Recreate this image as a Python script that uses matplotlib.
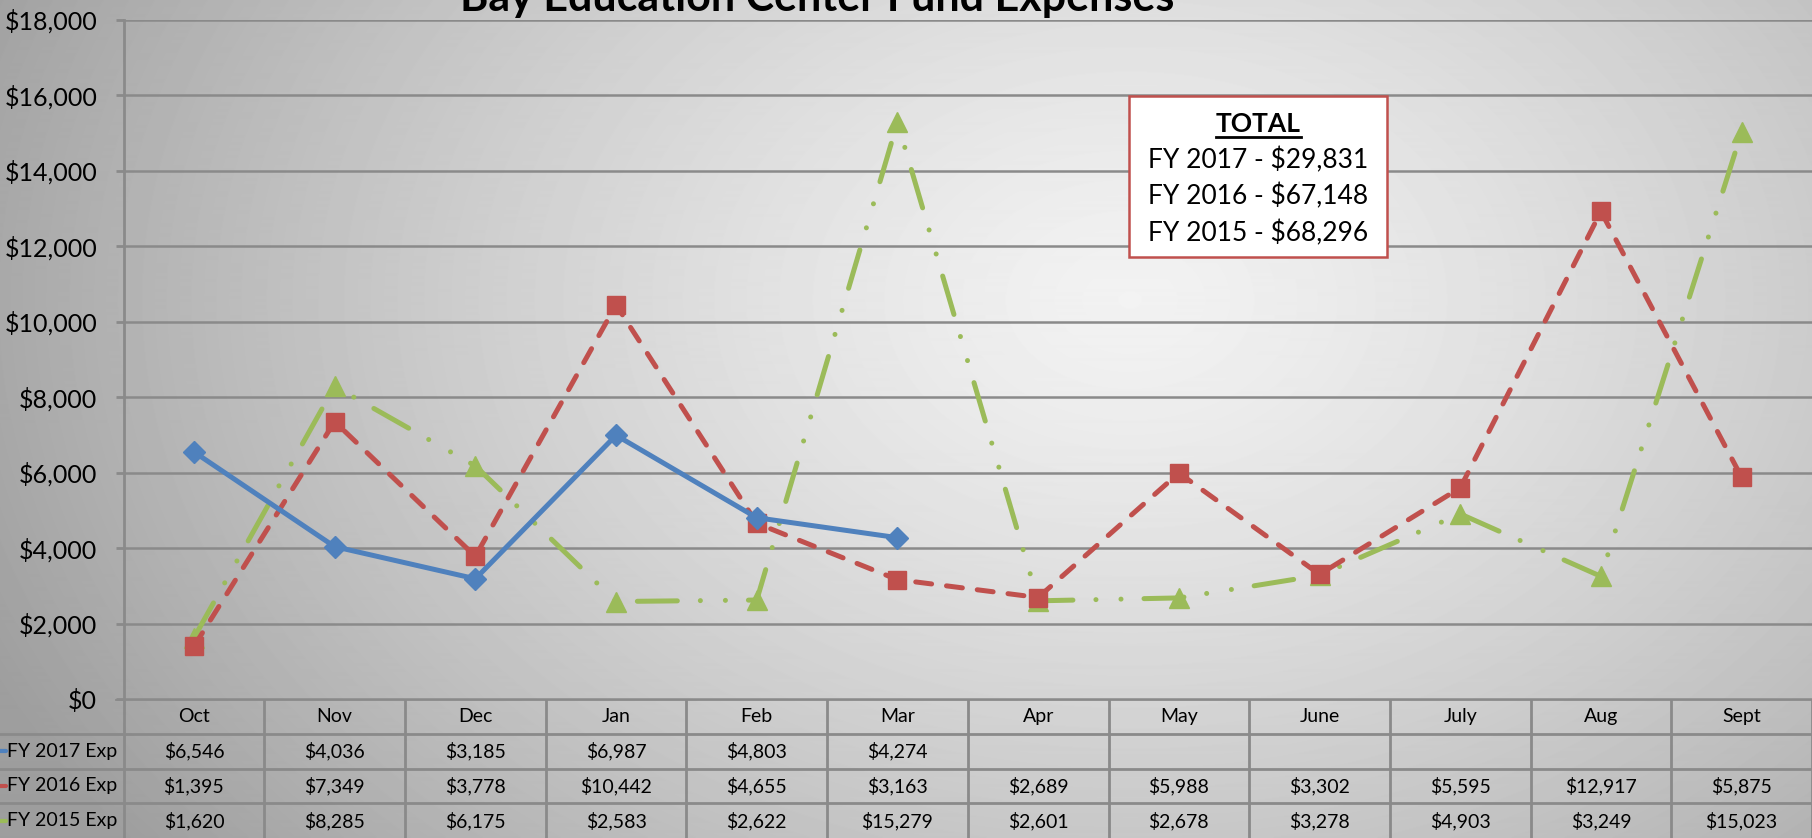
import numpy as np
import matplotlib.pyplot as plt

plt.rcParams['font.family'] = ['Lato', 'DejaVu Sans']

months = ['Oct', 'Nov', 'Dec', 'Jan', 'Feb', 'Mar', 'Apr', 'May', 'June', 'July', 'Aug', 'Sept']
fy2017 = [6546, 4036, 3185, 6987, 4803, 4274, None, None, None, None, None, None]
fy2016 = [1395, 7349, 3778, 10442, 4655, 3163, 2689, 5988, 3302, 5595, 12917, 5875]
fy2015 = [1620, 8285, 6175, 2583, 2622, 15279, 2601, 2678, 3278, 4903, 3249, 15023]
series_names = ['FY 2017 Exp', 'FY 2016 Exp', 'FY 2015 Exp']
totals = ['FY 2017 - $29,831', 'FY 2016 - $67,148', 'FY 2015 - $68,296']

blue, red, green = '#4f81bd', '#c0504d', '#9bbb59'
grid_c = '#8a8a8a'

W, H = 1812, 838
fig = plt.figure(figsize=(W / 100, H / 100), dpi=100)

# radial grey background
bg = fig.add_axes([0, 0, 1, 1], zorder=-10)
yy, xx = np.mgrid[0:H, 0:W]
r = np.sqrt(((xx - 1130) / 1250.0) ** 2 + ((yy - 300) / 900.0) ** 2)
r = np.clip(r, 0, 1)
shade = 0.95 - (0.95 - 0.62) * r ** 1.3
bg.imshow(shade, cmap='gray', vmin=0, vmax=1, aspect='auto', extent=[0, W, H, 0])
bg.axis('off')

left_px, top_px, zero_px = 123.6, 19.6, 699
col_w = (W - left_px) / 12

ax = fig.add_axes([left_px / W, (H - zero_px) / H, 1 - left_px / W, (zero_px - top_px) / H])
ax.set_facecolor('none')
ax.set_xlim(0, 12)
ax.set_ylim(0, 18000)
ax.set_yticks(range(0, 18001, 2000))
ax.set_yticklabels(['${:,}'.format(v) for v in range(0, 18001, 2000)], fontsize=18)
ax.set_xticks([])
ax.tick_params(axis='y', length=6, width=2, color=grid_c, pad=13)
for s in ['top', 'right', 'bottom']:
    ax.spines[s].set_visible(False)
ax.spines['left'].set_color(grid_c)
ax.spines['left'].set_linewidth(2)
for v in range(0, 18001, 2000):
    ax.axhline(v, color=grid_c, lw=1.8, zorder=1)

x = np.arange(12) + 0.5
y17 = np.array([np.nan if v is None else v for v in fy2017], dtype=float)
ax.plot(x, fy2015, color=green, lw=3.6, marker='^', ms=15,
        linestyle=(0, (8, 4.6, 0.01, 5, 0.01, 4.6)), dash_capstyle='round', zorder=3)
ax.plot(x, fy2016, color=red, lw=3.6, marker='s', ms=13,
        linestyle=(0, (3.2, 3)), dash_capstyle='round', zorder=4)
ax.plot(x, y17, color=blue, lw=3.6, marker='D', ms=11, zorder=5)

# title, partly cut off at the top as in the original
fig.text(817 / W, 1 - 11 / H, 'Bay Education Center Fund Expenses', ha='center', va='baseline',
         fontsize=31, fontweight='bold')

# TOTAL box
bx0, bx1, by0, by1 = 1129, 1387, 96, 257
box = plt.Rectangle((bx0 / W, 1 - by1 / H), (bx1 - bx0) / W, (by1 - by0) / H,
                    transform=fig.transFigure, facecolor='white', edgecolor=red, lw=1.8, zorder=20)
fig.patches.append(box)
cx = (bx0 + bx1) / 2 / W
t = fig.text(cx, 1 - 124 / H, 'TOTAL', ha='center', va='center', fontsize=19,
             fontweight='bold', zorder=21)
for i, txt in enumerate(totals):
    fig.text(cx, 1 - (160 + 36.5 * i) / H, txt, ha='center', va='center', fontsize=19, zorder=21)
fig.canvas.draw()
bb = t.get_window_extent()
fig.add_artist(plt.Line2D([bb.x0 / W, bb.x1 / W], [(bb.y0 - 1) / H, (bb.y0 - 1) / H],
                          transform=fig.transFigure, color='black', lw=2, zorder=21))

# data table
tab = fig.add_axes([0, 0, 1, (H - zero_px) / H])
tab.set_facecolor('none')
tab.set_xlim(-left_px / col_w, 12)
tab.set_ylim(4, 0)
tab.axis('off')
for i in range(1, 4):
    tab.plot([-left_px / col_w, 12], [i, i], color=grid_c, lw=2)
tab.plot([-8 / col_w, 12], [0, 0], color=grid_c, lw=2)
for j in range(13):
    tab.plot([j, j], [0, 4], color=grid_c, lw=2)
for j, m in enumerate(months):
    tab.text(j + 0.5, 0.5, m, ha='center', va='center', fontsize=14)
rows = [fy2017, fy2016, fy2015]
colors = [blue, red, green]
for i, (name, vals, c) in enumerate(zip(series_names, rows, colors)):
    yc = i + 1.5
    tab.text(-6.5 / col_w, yc, name, ha='right', va='center', fontsize=14)
    tab.plot([-left_px / col_w, -left_px / col_w + 6 / col_w], [yc, yc], color=c, lw=3,
             solid_capstyle='round', clip_on=False)
    for j, v in enumerate(vals):
        if v is not None:
            tab.text(j + 0.5, yc, '${:,}'.format(v), ha='center', va='center', fontsize=14)

fig.savefig('out.png', dpi=100)
